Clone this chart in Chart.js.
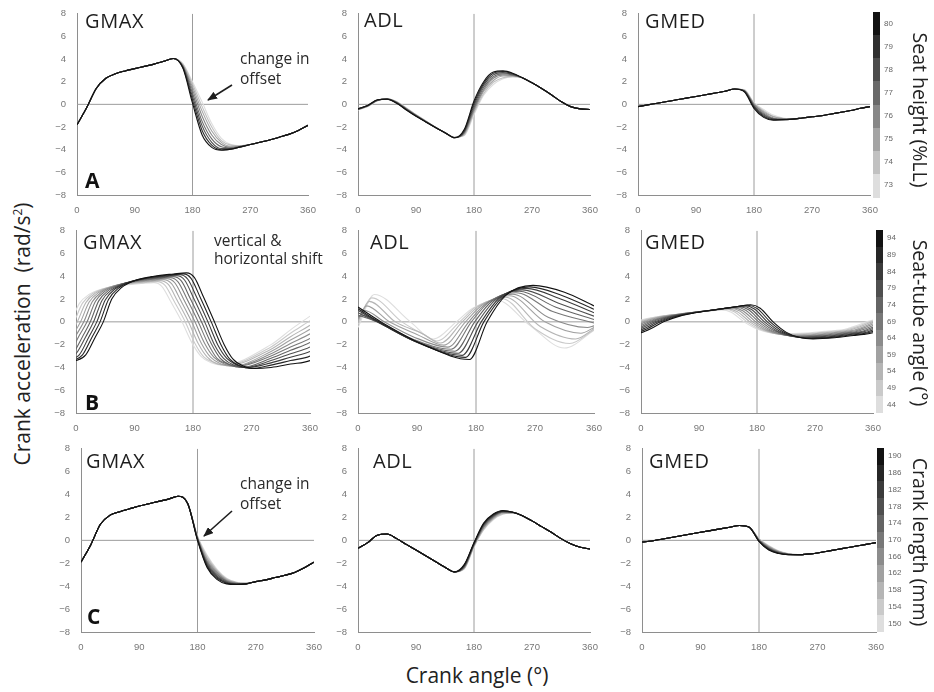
<!DOCTYPE html>
<html>
<head>
<meta charset="utf-8">
<script src="https://cdn.jsdelivr.net/npm/chart.js@4.4.1/dist/chart.umd.min.js"></script>
<style>
  body { margin: 0; background: #fff; width: 934px; height: 692px; position: relative; overflow: hidden;
         font-family: "Open Sans", "Noto Sans", sans-serif; color: #222; }
  .abs { position: absolute; white-space: nowrap; }
  .title { font-size: 20px; line-height: 1; letter-spacing: 0.6px; color: #1e1e1e; }
  .letter { font-size: 21px; line-height: 1; font-weight: 700; color: #111; }
  .note { font-size: 15.5px; line-height: 20px; color: #2a2a2a; }
  .axlab { font-size: 21px; line-height: 1; color: #222; }
  .sidelab { font-size: 19.5px; line-height: 1; color: #222; }
  .cbl { font-family: "Liberation Sans", sans-serif; font-size: 8px; line-height: 1; color: #666; }
</style>
</head>
<body>
<script>
// crank angle grid (deg) used by rows A and C
const ANGLES = [0,15,30,45,60,75,90,105,120,135,150,165,180,195,210,225,240,255,270,285,300,315,330,345,360];
const X_TICKS = [0, 90, 180, 270, 360];
const Y_TICKS = [-8, -6, -4, -2, 0, 2, 4, 6, 8];
const X_RANGE = [0, 360];
const Y_RANGE = [-8, 8];
const X_MARK = 180;

// colour bar levels, darkest first
const SEAT_HEIGHT = [80, 79, 78, 77, 76, 75, 74, 73];
const SEAT_TUBE = [94, 89, 84, 79, 74, 69, 64, 59, 54, 49, 44];
const CRANK_LEN = [190, 186, 182, 178, 174, 170, 166, 162, 158, 154, 150];

// A: seat height
const GMAX_A = [
  [-1.8,-0.3,1.4,2.3,2.7,2.95,3.15,3.35,3.55,3.8,4.05,3.2,0.1,-2.7,-3.8,-4.05,-3.95,-3.75,-3.55,-3.35,-3.15,-2.9,-2.65,-2.3,-1.85],
  [-1.8,-0.3,1.4,2.3,2.7,2.95,3.15,3.35,3.55,3.8,4.05,3.25,0.4,-2.3,-3.6,-4.0,-3.95,-3.75,-3.55,-3.35,-3.15,-2.9,-2.65,-2.3,-1.85],
  [-1.8,-0.3,1.4,2.3,2.7,2.95,3.15,3.35,3.55,3.8,4.05,3.3,0.7,-1.9,-3.35,-3.9,-3.9,-3.75,-3.55,-3.35,-3.15,-2.9,-2.65,-2.3,-1.85],
  [-1.8,-0.3,1.4,2.3,2.7,2.95,3.15,3.35,3.55,3.8,4.05,3.35,1.0,-1.5,-3.05,-3.75,-3.85,-3.7,-3.55,-3.35,-3.15,-2.9,-2.65,-2.3,-1.85],
  [-1.8,-0.3,1.4,2.3,2.7,2.95,3.15,3.35,3.55,3.8,4.05,3.4,1.3,-1.05,-2.7,-3.55,-3.8,-3.7,-3.55,-3.35,-3.15,-2.9,-2.65,-2.3,-1.85],
  [-1.8,-0.3,1.4,2.3,2.7,2.95,3.15,3.35,3.55,3.8,4.05,3.45,1.55,-0.6,-2.35,-3.35,-3.7,-3.7,-3.55,-3.35,-3.15,-2.9,-2.65,-2.3,-1.85],
  [-1.8,-0.3,1.4,2.3,2.7,2.95,3.15,3.35,3.55,3.8,4.05,3.55,1.8,-0.2,-2.0,-3.2,-3.6,-3.65,-3.55,-3.35,-3.15,-2.9,-2.65,-2.3,-1.85],
  [-1.8,-0.3,1.4,2.3,2.7,2.95,3.15,3.35,3.55,3.8,4.05,3.6,2.0,0.2,-1.7,-3.0,-3.55,-3.65,-3.55,-3.35,-3.15,-2.9,-2.65,-2.3,-1.85]
];
const ADL_A = [
  [-0.4,-0.1,0.4,0.45,0.1,-0.5,-1.05,-1.55,-2.05,-2.5,-2.95,-2.2,0.3,2.0,2.85,2.95,2.75,2.35,1.9,1.4,0.85,0.25,-0.2,-0.4,-0.45],
  [-0.4,-0.1,0.39,0.46,0.12,-0.47,-1.03,-1.54,-2.04,-2.5,-2.95,-2.3,0.1,1.85,2.75,2.9,2.7,2.35,1.9,1.4,0.85,0.25,-0.2,-0.4,-0.45],
  [-0.43,-0.12,0.37,0.47,0.14,-0.44,-1.01,-1.53,-2.03,-2.5,-2.94,-2.4,-0.1,1.7,2.6,2.8,2.65,2.35,1.9,1.4,0.85,0.25,-0.2,-0.4,-0.45],
  [-0.44,-0.13,0.36,0.47,0.16,-0.41,-0.99,-1.51,-2.03,-2.5,-2.93,-2.45,-0.3,1.5,2.45,2.7,2.6,2.35,1.9,1.4,0.85,0.25,-0.2,-0.4,-0.45],
  [-0.46,-0.15,0.34,0.48,0.18,-0.39,-0.96,-1.49,-2.02,-2.5,-2.92,-2.55,-0.45,1.3,2.3,2.6,2.55,2.35,1.9,1.4,0.85,0.25,-0.2,-0.4,-0.45],
  [-0.47,-0.16,0.33,0.49,0.21,-0.36,-0.94,-1.48,-2.01,-2.5,-2.92,-2.6,-0.6,1.15,2.1,2.5,2.5,2.35,1.9,1.4,0.85,0.25,-0.2,-0.4,-0.45],
  [-0.49,-0.18,0.31,0.5,0.23,-0.33,-0.92,-1.46,-2.01,-2.5,-2.91,-2.7,-0.75,0.95,1.95,2.35,2.45,2.35,1.9,1.4,0.85,0.25,-0.2,-0.4,-0.45],
  [-0.5,-0.2,0.3,0.5,0.25,-0.3,-0.9,-1.45,-2.0,-2.5,-2.9,-2.75,-0.9,0.8,1.75,2.25,2.45,2.35,1.9,1.4,0.85,0.25,-0.2,-0.4,-0.45]
];
const GMED_A = [
  [-0.2,-0.05,0.1,0.25,0.4,0.55,0.7,0.85,1.0,1.15,1.35,1.1,-0.35,-1.15,-1.4,-1.35,-1.3,-1.2,-1.1,-1.0,-0.85,-0.7,-0.55,-0.35,-0.2],
  [-0.2,-0.05,0.1,0.25,0.4,0.55,0.7,0.85,1.0,1.15,1.35,1.15,-0.25,-1.05,-1.35,-1.35,-1.3,-1.2,-1.1,-1.0,-0.85,-0.7,-0.55,-0.35,-0.2],
  [-0.2,-0.05,0.1,0.25,0.4,0.55,0.7,0.85,1.0,1.15,1.35,1.15,-0.15,-0.95,-1.3,-1.35,-1.3,-1.2,-1.1,-1.0,-0.85,-0.7,-0.55,-0.35,-0.2],
  [-0.2,-0.05,0.1,0.25,0.4,0.55,0.7,0.85,1.0,1.15,1.35,1.2,-0.1,-0.85,-1.25,-1.3,-1.3,-1.2,-1.1,-1.0,-0.85,-0.7,-0.55,-0.35,-0.2],
  [-0.2,-0.05,0.1,0.25,0.4,0.55,0.7,0.85,1.0,1.15,1.35,1.2,0.0,-0.75,-1.2,-1.3,-1.3,-1.2,-1.1,-1.0,-0.85,-0.7,-0.55,-0.35,-0.2],
  [-0.2,-0.05,0.1,0.25,0.4,0.55,0.7,0.85,1.0,1.15,1.35,1.25,0.05,-0.65,-1.1,-1.25,-1.3,-1.2,-1.1,-1.0,-0.85,-0.7,-0.55,-0.35,-0.2],
  [-0.2,-0.05,0.1,0.25,0.4,0.55,0.7,0.85,1.0,1.15,1.35,1.25,0.1,-0.55,-1.05,-1.25,-1.3,-1.2,-1.1,-1.0,-0.85,-0.7,-0.55,-0.35,-0.2],
  [-0.2,-0.05,0.1,0.25,0.4,0.55,0.7,0.85,1.0,1.15,1.35,1.3,0.15,-0.45,-0.95,-1.2,-1.3,-1.2,-1.1,-1.0,-0.85,-0.7,-0.55,-0.35,-0.2]
];

// B: seat-tube angle (each line read at its own angles)
const GMAX_B_ANG = [
  [-15,0,15,30,42,55,70,90,120,150,170,182,196,213,228,242,258,275,300,330,360,380],
  [-20,-5,10,25,37,50,65,85,115,145,165,177,191,208,223,237,253,270,300,330,360,380],
  [-25,-10,5,20,32,45,60,80,110,140,160,172,186,203,218,232,248,265,300,330,360,380],
  [-30,-15,0,15,27,40,55,75,105,135,155,167,181,198,213,227,243,260,300,330,360,380],
  [-35,-20,-5,10,22,35,50,70,100,130,150,162,176,193,208,222,238,255,300,330,360,380],
  [-40,-25,-10,5,17,30,45,65,95,125,145,157,171,188,203,217,233,250,300,330,360,380],
  [-45,-30,-15,0,12,25,40,60,90,120,140,152,166,183,198,212,228,245,300,330,360,380],
  [-50,-35,-20,-5,7,20,35,55,85,115,135,147,161,178,193,207,223,240,300,330,360,380],
  [-55,-40,-25,-10,2,15,30,50,80,110,130,142,156,173,188,202,218,235,300,330,360,380],
  [-60,-45,-30,-15,-3,10,25,45,75,105,125,137,151,168,183,197,213,230,300,330,360,380],
  [-65,-50,-35,-20,-8,5,20,40,70,100,120,132,146,163,178,192,208,225,300,330,360,380]
];
const GMAX_B_VAL = [
  [-3.5,-3.4,-2.9,-1.3,0,2.0,3.0,3.6,4.0,4.2,4.3,3.9,2.2,0,-2.0,-3.3,-3.9,-4.1,-4.0,-3.7,-3.4,-2.6],
  [-3.5,-3.4,-2.9,-1.3,0,1.96,2.94,3.53,3.92,4.12,4.21,3.82,2.16,0,-2.0,-3.3,-3.9,-4.1,-3.8,-3.4,-3.0,-2.2],
  [-3.4,-3.3,-2.9,-1.3,0,1.92,2.88,3.46,3.84,4.03,4.13,3.74,2.11,0,-2.0,-3.2,-3.8,-4.0,-3.6,-3.1,-2.6,-1.8],
  [-3.4,-3.3,-2.8,-1.3,0,1.88,2.82,3.38,3.76,3.95,4.04,3.67,2.07,0,-2.0,-3.2,-3.8,-4.0,-3.4,-2.8,-2.2,-1.4],
  [-3.4,-3.3,-2.8,-1.3,0,1.84,2.76,3.31,3.68,3.86,3.96,3.59,2.02,0,-1.9,-3.2,-3.8,-4.0,-3.2,-2.5,-1.8,-1.0],
  [-3.4,-3.3,-2.8,-1.2,0,1.8,2.7,3.24,3.6,3.78,3.87,3.51,1.98,0,-1.9,-3.2,-3.7,-3.9,-3.0,-2.2,-1.45,-0.65],
  [-3.3,-3.2,-2.8,-1.2,0,1.76,2.64,3.17,3.52,3.7,3.78,3.43,1.94,0,-1.9,-3.1,-3.7,-3.9,-2.8,-1.9,-1.05,-0.25],
  [-3.3,-3.2,-2.7,-1.2,0,1.72,2.58,3.1,3.44,3.61,3.7,3.35,1.89,0,-1.9,-3.1,-3.7,-3.9,-2.6,-1.6,-0.65,0.15],
  [-3.3,-3.2,-2.7,-1.2,0,1.68,2.52,3.02,3.36,3.53,3.61,3.28,1.85,0,-1.9,-3.1,-3.7,-3.8,-2.4,-1.3,-0.3,0.5],
  [-3.2,-3.2,-2.7,-1.2,0,1.64,2.46,2.95,3.28,3.44,3.53,3.2,1.8,0,-1.9,-3.1,-3.6,-3.8,-2.2,-1.0,0.1,0.9],
  [-3.2,-3.1,-2.7,-1.2,0,1.6,2.4,2.88,3.2,3.36,3.44,3.12,1.76,0,-1.8,-3.0,-3.6,-3.8,-2.0,-0.7,0.5,1.3]
];
const ADL_B_ANG = [
  [0,35,100,170,197,225,267,315,360],
  [0,32,97,164,192,220,262,312,360],
  [0,30,94,159,188,215,257,309,360],
  [0,29,91,153,183,210,251,305,360],
  [0,29,88,148,178,205,246,301,360],
  [0,8,32,85,142,173,200,241,297,360],
  [0,10,40,84,137,169,195,236,290,350,360],
  [0,13,48,90,131,164,190,231,285,340,360],
  [0,17,57,97,126,159,185,225,278,332,360],
  [0,21,67,103,120,155,180,220,270,323,360],
  [0,25,80,115,150,175,212,262,315,360]
];
const ADL_B_VAL = [
  [1.3,0,-2.0,-3.3,0,2.3,3.2,2.6,1.4],
  [1.15,0,-1.95,-3.12,0,2.15,3.07,2.3,1.1],
  [1.0,0,-1.9,-2.94,0,2.05,2.94,2.0,0.8],
  [0.8,0,-1.8,-2.76,0,1.95,2.81,1.65,0.5],
  [0.6,0,-1.7,-2.58,0,1.85,2.68,1.3,0.2],
  [0.45,0.55,0,-1.55,-2.4,0,1.75,2.55,0.9,-0.1],
  [0.3,1.0,0,-1.3,-2.22,0,1.6,2.42,0.4,-0.5,-0.35],
  [0.15,1.4,0,-1.1,-2.04,0,1.5,2.29,0.0,-1.0,-0.5],
  [0.0,1.8,0,-1.0,-1.86,0,1.4,2.16,-0.4,-1.5,-0.6],
  [-0.25,2.1,0,-1.2,-1.68,0,1.3,2.03,-0.6,-1.9,-0.7],
  [-0.5,2.4,0,-1.5,0,1.2,1.9,-0.3,-2.3,-0.75]
];
const GMED_B_ANG = [
  [-15,0,15,35,60,90,120,150,170,185,205,225,245,267,300,330,345,360,375,395,420],
  [-19.5,-4.5,10.5,30.5,55.5,85.5,115.5,145.5,165.5,180.5,200.5,220.5,240.5,262.5,295.5,325.5,340.5,355.5,370.5,390.5,415.5],
  [-24,-9,6,26,51,81,111,141,161,176,196,216,236,258,291,321,336,351,366,386,411],
  [-28.5,-13.5,1.5,21.5,46.5,76.5,106.5,136.5,156.5,171.5,191.5,211.5,231.5,253.5,286.5,316.5,331.5,346.5,361.5,381.5,406.5],
  [-33,-18,-3,17,42,72,102,132,152,167,187,207,227,249,282,312,327,342,357,377,402],
  [-37.5,-22.5,-7.5,12.5,37.5,67.5,97.5,127.5,147.5,162.5,182.5,202.5,222.5,244.5,277.5,307.5,322.5,337.5,352.5,372.5,397.5],
  [-42,-27,-12,8,33,63,93,123,143,158,178,198,218,240,273,303,318,333,348,368,393],
  [-46.5,-31.5,-16.5,3.5,28.5,58.5,88.5,118.5,138.5,153.5,173.5,193.5,213.5,235.5,268.5,298.5,313.5,328.5,343.5,363.5,388.5],
  [-51,-36,-21,-1,24,54,84,114,134,149,169,189,209,231,264,294,309,324,339,359,384],
  [-55.5,-40.5,-25.5,-5.5,19.5,49.5,79.5,109.5,129.5,144.5,164.5,184.5,204.5,226.5,259.5,289.5,304.5,319.5,334.5,354.5,379.5],
  [-60,-45,-30,-10,15,45,75,105,125,140,160,180,200,222,255,285,300,315,330,350,375]
];
const GMED_B_VAL = [
  [-1.1,-0.95,-0.6,0,0.5,0.85,1.1,1.35,1.5,1.2,0,-0.9,-1.35,-1.5,-1.4,-1.2,-1.1,-0.95,-0.6,0,0.5],
  [-1.07,-0.92,-0.58,0,0.49,0.82,1.07,1.31,1.46,1.16,0,-0.87,-1.31,-1.46,-1.36,-1.16,-1.07,-0.92,-0.58,0,0.49],
  [-1.03,-0.89,-0.56,0,0.47,0.8,1.03,1.27,1.41,1.13,0,-0.85,-1.27,-1.41,-1.32,-1.13,-1.03,-0.89,-0.56,0,0.47],
  [-1.0,-0.86,-0.55,0,0.46,0.77,1.0,1.23,1.37,1.09,0,-0.82,-1.23,-1.37,-1.27,-1.09,-1.0,-0.86,-0.55,0,0.46],
  [-0.97,-0.84,-0.53,0,0.44,0.75,0.97,1.19,1.32,1.06,0,-0.79,-1.19,-1.32,-1.23,-1.06,-0.97,-0.84,-0.53,0,0.44],
  [-0.94,-0.81,-0.51,0,0.43,0.72,0.94,1.15,1.28,1.02,0,-0.77,-1.15,-1.28,-1.19,-1.02,-0.94,-0.81,-0.51,0,0.43],
  [-0.9,-0.78,-0.49,0,0.41,0.7,0.9,1.11,1.23,0.98,0,-0.74,-1.11,-1.23,-1.15,-0.98,-0.9,-0.78,-0.49,0,0.41],
  [-0.87,-0.75,-0.47,0,0.4,0.67,0.87,1.07,1.19,0.95,0,-0.71,-1.07,-1.19,-1.11,-0.95,-0.87,-0.75,-0.47,0,0.4],
  [-0.84,-0.72,-0.46,0,0.38,0.65,0.84,1.03,1.14,0.91,0,-0.68,-1.03,-1.14,-1.06,-0.91,-0.84,-0.72,-0.46,0,0.38],
  [-0.8,-0.69,-0.44,0,0.37,0.62,0.8,0.99,1.1,0.88,0,-0.66,-0.99,-1.1,-1.02,-0.88,-0.8,-0.69,-0.44,0,0.37],
  [-0.77,-0.67,-0.42,0,0.35,0.6,0.77,0.95,1.05,0.84,0,-0.63,-0.95,-1.05,-0.98,-0.84,-0.77,-0.67,-0.42,0,0.35]
];

// C: crank length
const GMAX_C = [
  [-1.9,-0.4,1.4,2.2,2.5,2.75,3.0,3.2,3.4,3.6,3.85,3.2,0.0,-2.4,-3.4,-3.8,-3.85,-3.8,-3.6,-3.45,-3.25,-3.05,-2.8,-2.4,-1.9],
  [-1.9,-0.4,1.4,2.2,2.5,2.75,3.0,3.2,3.4,3.6,3.85,3.2,0.05,-2.3,-3.3,-3.75,-3.85,-3.8,-3.6,-3.45,-3.25,-3.05,-2.8,-2.4,-1.9],
  [-1.9,-0.4,1.4,2.2,2.5,2.75,3.0,3.2,3.4,3.6,3.85,3.2,0.1,-2.2,-3.2,-3.7,-3.8,-3.8,-3.6,-3.45,-3.25,-3.05,-2.8,-2.4,-1.9],
  [-1.9,-0.4,1.4,2.2,2.5,2.75,3.0,3.2,3.4,3.6,3.85,3.2,0.12,-2.1,-3.1,-3.65,-3.8,-3.8,-3.6,-3.45,-3.25,-3.05,-2.8,-2.4,-1.9],
  [-1.9,-0.4,1.4,2.2,2.5,2.75,3.0,3.2,3.4,3.6,3.85,3.2,0.15,-2.0,-3.0,-3.6,-3.8,-3.8,-3.6,-3.45,-3.25,-3.05,-2.8,-2.4,-1.9],
  [-1.9,-0.4,1.4,2.2,2.5,2.75,3.0,3.2,3.4,3.6,3.85,3.2,0.2,-1.9,-2.9,-3.55,-3.75,-3.8,-3.6,-3.45,-3.25,-3.05,-2.8,-2.4,-1.9],
  [-1.9,-0.4,1.4,2.2,2.5,2.75,3.0,3.2,3.4,3.6,3.85,3.2,0.22,-1.8,-2.8,-3.5,-3.75,-3.8,-3.6,-3.45,-3.25,-3.05,-2.8,-2.4,-1.9],
  [-1.9,-0.4,1.4,2.2,2.5,2.75,3.0,3.2,3.4,3.6,3.85,3.2,0.25,-1.65,-2.75,-3.45,-3.7,-3.75,-3.6,-3.45,-3.25,-3.05,-2.8,-2.4,-1.9],
  [-1.9,-0.4,1.4,2.2,2.5,2.75,3.0,3.2,3.4,3.6,3.85,3.2,0.3,-1.55,-2.65,-3.4,-3.7,-3.75,-3.6,-3.45,-3.25,-3.05,-2.8,-2.4,-1.9],
  [-1.9,-0.4,1.4,2.2,2.5,2.75,3.0,3.2,3.4,3.6,3.85,3.2,0.35,-1.4,-2.6,-3.35,-3.65,-3.75,-3.6,-3.45,-3.25,-3.05,-2.8,-2.4,-1.9],
  [-1.9,-0.4,1.4,2.2,2.5,2.75,3.0,3.2,3.4,3.6,3.85,3.2,0.4,-1.3,-2.5,-3.3,-3.65,-3.75,-3.6,-3.45,-3.25,-3.05,-2.8,-2.4,-1.9]
];
const ADL_C = [
  [-0.7,-0.2,0.45,0.55,0.15,-0.35,-0.85,-1.35,-1.85,-2.35,-2.75,-2.1,-0.2,1.5,2.3,2.6,2.45,2.15,1.7,1.2,0.7,0.15,-0.3,-0.6,-0.75],
  [-0.7,-0.2,0.45,0.55,0.15,-0.35,-0.85,-1.35,-1.85,-2.35,-2.75,-2.15,-0.25,1.45,2.25,2.55,2.45,2.15,1.7,1.2,0.7,0.15,-0.3,-0.6,-0.75],
  [-0.7,-0.2,0.45,0.55,0.15,-0.35,-0.85,-1.35,-1.85,-2.35,-2.75,-2.2,-0.3,1.4,2.2,2.55,2.45,2.15,1.7,1.2,0.7,0.15,-0.3,-0.6,-0.75],
  [-0.7,-0.2,0.45,0.55,0.15,-0.35,-0.85,-1.35,-1.85,-2.35,-2.75,-2.25,-0.3,1.35,2.15,2.5,2.45,2.15,1.7,1.2,0.7,0.15,-0.3,-0.6,-0.75],
  [-0.7,-0.2,0.45,0.55,0.15,-0.35,-0.85,-1.35,-1.85,-2.35,-2.75,-2.3,-0.35,1.3,2.1,2.5,2.45,2.15,1.7,1.2,0.7,0.15,-0.3,-0.6,-0.75],
  [-0.7,-0.2,0.45,0.55,0.15,-0.35,-0.85,-1.35,-1.85,-2.35,-2.75,-2.3,-0.4,1.2,2.05,2.45,2.45,2.15,1.7,1.2,0.7,0.15,-0.3,-0.6,-0.75],
  [-0.7,-0.2,0.45,0.55,0.15,-0.35,-0.85,-1.35,-1.85,-2.35,-2.75,-2.35,-0.45,1.15,2.0,2.45,2.45,2.15,1.7,1.2,0.7,0.15,-0.3,-0.6,-0.75],
  [-0.7,-0.2,0.45,0.55,0.15,-0.35,-0.85,-1.35,-1.85,-2.35,-2.75,-2.4,-0.45,1.1,1.95,2.4,2.4,2.15,1.7,1.2,0.7,0.15,-0.3,-0.6,-0.75],
  [-0.7,-0.2,0.45,0.55,0.15,-0.35,-0.85,-1.35,-1.85,-2.35,-2.75,-2.45,-0.5,1.0,1.9,2.35,2.4,2.15,1.7,1.2,0.7,0.15,-0.3,-0.6,-0.75],
  [-0.7,-0.2,0.45,0.55,0.15,-0.35,-0.85,-1.35,-1.85,-2.35,-2.75,-2.45,-0.55,0.95,1.85,2.3,2.4,2.15,1.7,1.2,0.7,0.15,-0.3,-0.6,-0.75],
  [-0.7,-0.2,0.45,0.55,0.15,-0.35,-0.85,-1.35,-1.85,-2.35,-2.75,-2.5,-0.6,0.9,1.8,2.3,2.4,2.15,1.7,1.2,0.7,0.15,-0.3,-0.6,-0.75]
];
const GMED_C = [
  [-0.15,-0.05,0.1,0.25,0.4,0.55,0.7,0.85,1.0,1.15,1.3,1.15,-0.1,-0.85,-1.15,-1.25,-1.25,-1.2,-1.1,-0.95,-0.8,-0.65,-0.5,-0.35,-0.2],
  [-0.15,-0.05,0.1,0.25,0.4,0.55,0.7,0.85,1.0,1.15,1.3,1.15,-0.08,-0.8,-1.13,-1.25,-1.25,-1.2,-1.1,-0.95,-0.8,-0.65,-0.5,-0.35,-0.2],
  [-0.15,-0.05,0.1,0.25,0.4,0.55,0.7,0.85,1.0,1.15,1.3,1.15,-0.05,-0.76,-1.1,-1.24,-1.25,-1.2,-1.1,-0.95,-0.8,-0.65,-0.5,-0.35,-0.2],
  [-0.15,-0.05,0.1,0.25,0.4,0.55,0.7,0.85,1.0,1.15,1.3,1.15,-0.02,-0.72,-1.08,-1.23,-1.25,-1.2,-1.1,-0.95,-0.8,-0.65,-0.5,-0.35,-0.2],
  [-0.15,-0.05,0.1,0.25,0.4,0.55,0.7,0.85,1.0,1.15,1.3,1.15,0.0,-0.68,-1.05,-1.22,-1.25,-1.2,-1.1,-0.95,-0.8,-0.65,-0.5,-0.35,-0.2],
  [-0.15,-0.05,0.1,0.25,0.4,0.55,0.7,0.85,1.0,1.15,1.3,1.15,0.03,-0.64,-1.03,-1.21,-1.25,-1.2,-1.1,-0.95,-0.8,-0.65,-0.5,-0.35,-0.2],
  [-0.15,-0.05,0.1,0.25,0.4,0.55,0.7,0.85,1.0,1.15,1.3,1.15,0.05,-0.6,-1.0,-1.2,-1.25,-1.2,-1.1,-0.95,-0.8,-0.65,-0.5,-0.35,-0.2],
  [-0.15,-0.05,0.1,0.25,0.4,0.55,0.7,0.85,1.0,1.15,1.3,1.15,0.08,-0.56,-0.98,-1.19,-1.25,-1.2,-1.1,-0.95,-0.8,-0.65,-0.5,-0.35,-0.2],
  [-0.15,-0.05,0.1,0.25,0.4,0.55,0.7,0.85,1.0,1.15,1.3,1.15,0.1,-0.52,-0.95,-1.18,-1.25,-1.2,-1.1,-0.95,-0.8,-0.65,-0.5,-0.35,-0.2],
  [-0.15,-0.05,0.1,0.25,0.4,0.55,0.7,0.85,1.0,1.15,1.3,1.15,0.12,-0.48,-0.93,-1.17,-1.25,-1.2,-1.1,-0.95,-0.8,-0.65,-0.5,-0.35,-0.2],
  [-0.15,-0.05,0.1,0.25,0.4,0.55,0.7,0.85,1.0,1.15,1.3,1.15,0.15,-0.45,-0.9,-1.15,-1.25,-1.2,-1.1,-0.95,-0.8,-0.65,-0.5,-0.35,-0.2]
];

// ---- layout ----
const PAD = { l: 30, r: 12, t: 8, b: 20 };

function pairs(ang, val) {
  return ang.map((a, i) => ({ x: a, y: val[i] }));
}
function onGrid(rows) {
  return rows.map(r => pairs(ANGLES, r));
}
function shade(k, n) {
  const g = Math.round(18 + (222 - 18) * k / (n - 1));
  return `rgb(${g},${g},${g})`;
}

const PANELS = [
  { title: 'GMAX', lines: onGrid(GMAX_A), box: [77, 13, 308, 195] },
  { title: 'ADL',  lines: onGrid(ADL_A),  box: [358, 13, 590, 195] },
  { title: 'GMED', lines: onGrid(GMED_A), box: [638, 13, 870, 195] },
  { title: 'GMAX', lines: GMAX_B_ANG.map((a, k) => pairs(a, GMAX_B_VAL[k])), box: [76, 230, 310, 413] },
  { title: 'ADL',  lines: ADL_B_ANG.map((a, k) => pairs(a, ADL_B_VAL[k])),   box: [358, 230, 594, 413] },
  { title: 'GMED', lines: GMED_B_ANG.map((a, k) => pairs(a, GMED_B_VAL[k])), box: [641, 230, 873, 413] },
  { title: 'GMAX', lines: onGrid(GMAX_C), box: [81, 448, 314, 632] },
  { title: 'ADL',  lines: onGrid(ADL_C),  box: [358, 448, 590, 632] },
  { title: 'GMED', lines: onGrid(GMED_C), box: [642, 448, 876, 632] }
];

const tickFont = { family: 'Liberation Sans', size: 9.5 };

function addText(html, cls, left, top, extra) {
  const d = document.createElement('div');
  d.className = 'abs ' + cls;
  d.innerHTML = html;
  d.style.left = left + 'px';
  d.style.top = top + 'px';
  if (extra) Object.assign(d.style, extra);
  document.body.appendChild(d);
  return d;
}

PANELS.forEach(p => {
  const [x0, y0, x1, y1] = p.box;
  const w = x1 - x0 + PAD.l + PAD.r, h = y1 - y0 + PAD.t + PAD.b;
  const cv = document.createElement('canvas');
  cv.width = w; cv.height = h;
  cv.style.cssText = `position:absolute;left:${x0 - PAD.l}px;top:${y0 - PAD.t}px;width:${w}px;height:${h}px`;
  document.body.appendChild(cv);

  const n = p.lines.length;
  const datasets = p.lines.map((d, k) => ({
    data: d, borderColor: shade(k, n), borderWidth: 1.1,
    pointRadius: 0, cubicInterpolationMode: 'monotone', order: 0
  }));
  // reference lines at zero and at 180 deg
  datasets.push({ data: [{ x: X_RANGE[0], y: 0 }, { x: X_RANGE[1], y: 0 }],
    borderColor: '#9c9c9c', borderWidth: 1, pointRadius: 0, tension: 0, order: 1 });
  datasets.push({ data: [{ x: X_MARK, y: Y_RANGE[0] }, { x: X_MARK, y: Y_RANGE[1] }],
    borderColor: '#9c9c9c', borderWidth: 1, pointRadius: 0, tension: 0, order: 1 });

  new Chart(cv, {
    type: 'line',
    data: { datasets: datasets },
    options: {
      responsive: false,
      animation: false,
      events: [],
      layout: { padding: { top: PAD.t, right: PAD.r, left: 0, bottom: 0 } },
      plugins: { legend: { display: false }, tooltip: { enabled: false } },
      scales: {
        x: {
          type: 'linear', min: X_RANGE[0], max: X_RANGE[1],
          afterBuildTicks: s => { s.ticks = X_TICKS.map(v => ({ value: v })); },
          afterFit: s => { s.height = PAD.b; },
          grid: { display: false },
          border: { display: true, color: '#8e8e8e', width: 1 },
          ticks: { font: tickFont, color: '#777', padding: 2, maxRotation: 0, autoSkip: false }
        },
        y: {
          type: 'linear', min: Y_RANGE[0], max: Y_RANGE[1],
          afterBuildTicks: s => { s.ticks = Y_TICKS.map(v => ({ value: v })); },
          afterFit: s => { s.width = PAD.l; },
          grid: { display: false },
          border: { display: true, color: '#8e8e8e', width: 1 },
          ticks: { font: tickFont, color: '#777', padding: 3,
                   callback: v => v < 0 ? '\u2212' + Math.abs(v) : String(v) }
        }
      }
    }
  });
});

// panel titles
const TITLE_POS = [[85, 10.5], [364, 9.5], [645, 10.5], [83, 231.5], [370, 231.5], [645, 231.5], [86, 450.5], [373, 450.5], [649, 450.5]];
PANELS.forEach((p, i) => addText(p.title, 'title', TITLE_POS[i][0], TITLE_POS[i][1]));

addText('A', 'letter', 85, 169.5);
addText('B', 'letter', 85, 391.5);
addText('C', 'letter', 87, 605.5);

addText('change in<br>offset', 'note', 240, 48);
addText('vertical &amp;<br>horizontal shift', 'note', 214, 231, { lineHeight: '18px' });
addText('change in<br>offset', 'note', 240, 473);

// colour bars
const BARS = [
  { levels: SEAT_HEIGHT, x: 873, y: 12, h: 185, label: 'Seat height (%LL)', cy: 110 },
  { levels: SEAT_TUBE, x: 876, y: 230, h: 183, label: 'Seat-tube angle (\u00B0)', cy: 323 },
  { levels: CRANK_LEN, x: 877, y: 448, h: 184, label: 'Crank length (mm)', cy: 542 }
];
BARS.forEach(b => {
  const n = b.levels.length, step = b.h / n;
  b.levels.forEach((lv, k) => {
    const blk = document.createElement('div');
    blk.className = 'abs';
    Object.assign(blk.style, { left: b.x + 'px', top: (b.y + k * step) + 'px', width: '7px',
      height: (step + 0.5) + 'px', background: shade(k, n) });
    document.body.appendChild(blk);
    addText(String(lv), 'cbl', b.x + 11, b.y + (k + 0.5) * step - 4);
  });
  addText(b.label, 'sidelab', 920, b.cy, { transform: 'translate(-50%,-50%) rotate(90deg)' });
});

addText('Crank acceleration&nbsp;&nbsp;(rad/s<sup style="font-size:12px;line-height:0">2</sup>)', 'axlab', 22, 334,
  { transform: 'translate(-50%,-50%) rotate(-90deg)' });
addText('Crank angle (\u00B0)', 'axlab', 477, 675, { transform: 'translate(-50%,-50%)' });
</script>
<svg width="934" height="692" style="position:absolute;left:0;top:0;pointer-events:none">
  <defs>
    <marker id="ah" markerWidth="10" markerHeight="8" refX="9" refY="4" orient="auto" markerUnits="userSpaceOnUse">
      <path d="M0,0 L10,4 L0,8 z" fill="#1e1e1e"/>
    </marker>
  </defs>
  <line x1="232" y1="85" x2="208" y2="100" stroke="#1e1e1e" stroke-width="1.6" marker-end="url(#ah)"/>
  <line x1="232" y1="511" x2="204" y2="536" stroke="#1e1e1e" stroke-width="1.6" marker-end="url(#ah)"/>
</svg>
</body>
</html>
